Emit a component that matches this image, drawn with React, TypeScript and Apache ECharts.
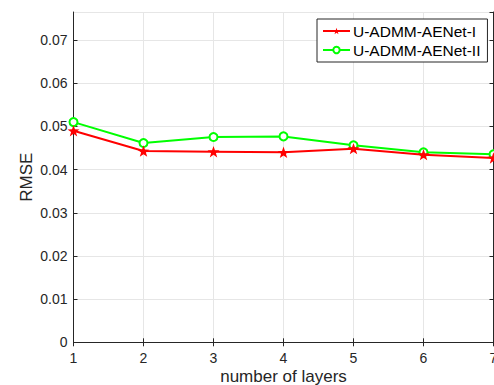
import React, { useEffect, useRef } from "react";
import * as echarts from "echarts";

const layers = [1, 2, 3, 4, 5, 6, 7];
const rmseI = [0.049, 0.0443, 0.04415, 0.0440, 0.04485, 0.04346, 0.04269];
const rmseII = [0.0510, 0.04615, 0.04754, 0.04769, 0.04562, 0.0440, 0.04354];
const seriesNames = ["U-ADMM-AENet-I", "U-ADMM-AENet-II"];

const FONT = "'Liberation Sans', Arial, Helvetica, sans-serif";
const AX = "#262626";
const STAR =
  "path://M0,-10 L2.35,-3.24 L9.51,-3.09 L3.8,1.24 L5.88,8.09 L0,4 L-5.88,8.09 L-3.8,1.24 L-9.51,-3.09 L-2.35,-3.24 Z";

export default function App() {
  const ref = useRef<HTMLDivElement>(null);
  useEffect(() => {
    document.body.style.margin = "0";
    const chart = echarts.init(ref.current!, null, { renderer: "svg" });
    const axisLineStyle = { color: AX, width: 1 };
    const hiddenAxisCommon = {
      axisLine: { show: true, lineStyle: axisLineStyle },
      axisTick: { show: true, inside: true, length: 4, lineStyle: axisLineStyle },
      axisLabel: { show: false },
      splitLine: { show: false },
    };
    chart.setOption({
      animation: false,
      backgroundColor: "#ffffff",
      grid: {
        left: 73.5,
        right: 0.5,
        top: 12,
        bottom: 42.7,
        outerBoundsMode: "none",
        containLabel: false,
      },
      legend: {
        left: 317,
        top: 19,
        orient: "vertical",
        backgroundColor: "#ffffff",
        borderColor: AX,
        borderWidth: 1,
        borderRadius: 0,
        padding: [4, 7, 4, 5],
        itemWidth: 27,
        itemHeight: 8,
        itemGap: 3,
        textStyle: { fontFamily: FONT, fontSize: 15.5, color: "#000", padding: [0, 0, 0, -2] },
        data: seriesNames,
      },
      xAxis: [
        {
          type: "value",
          min: 1,
          max: 7,
          interval: 1,
          name: "number of layers",
          nameLocation: "middle",
          nameGap: 26,
          nameMoveOverlap: false,
          nameTextStyle: { fontFamily: FONT, fontSize: 17, color: AX },
          axisLine: { show: true, lineStyle: axisLineStyle },
          axisTick: { show: true, inside: true, length: 4, lineStyle: axisLineStyle },
          axisLabel: { fontFamily: FONT, fontSize: 14, color: AX, margin: 9 },
          splitLine: { show: true, lineStyle: { color: "#e6e6e6", width: 1 } },
        },
        { type: "value", position: "top", min: 1, max: 7, interval: 1, ...hiddenAxisCommon },
      ],
      yAxis: [
        {
          type: "value",
          min: 0,
          max: 0.0765,
          interval: 0.01,
          name: "RMSE",
          nameLocation: "middle",
          nameGap: 39,
          nameMoveOverlap: false,
          nameTextStyle: { fontFamily: FONT, fontSize: 17, color: AX },
          axisLine: { show: true, lineStyle: axisLineStyle },
          axisTick: { show: true, inside: true, length: 4, lineStyle: axisLineStyle },
          axisLabel: {
            fontFamily: FONT,
            fontSize: 14,
            color: AX,
            margin: 6,
            showMaxLabel: false,
            formatter: (v: number) => (v === 0 ? "0" : v.toFixed(2)),
          },
          splitLine: { show: true, lineStyle: { color: "#e6e6e6", width: 1 } },
        },
        { type: "value", position: "right", min: 0, max: 0.0765, interval: 0.01, ...hiddenAxisCommon },
      ],
      series: [
        {
          name: seriesNames[0],
          type: "line",
          data: layers.map((x, i) => [x, rmseI[i]]),
          symbol: STAR,
          symbolSize: 12,
          symbolKeepAspect: true,
          lineStyle: { color: "#ff0000", width: 2 },
          itemStyle: { color: "#ff0000", borderWidth: 0 },
          z: 3,
        },
        {
          name: seriesNames[1],
          type: "line",
          data: layers.map((x, i) => [x, rmseII[i]]),
          symbol: "emptyCircle",
          symbolSize: 8,
          showAllSymbol: true,
          lineStyle: { color: "#00ff00", width: 2 },
          itemStyle: { color: "#00ff00", borderColor: "#00ff00", borderWidth: 1.5 },
          z: 2,
        },
      ],
    });
    return () => chart.dispose();
  }, []);
  return <div ref={ref} style={{ width: 494, height: 385 }} />;
}
